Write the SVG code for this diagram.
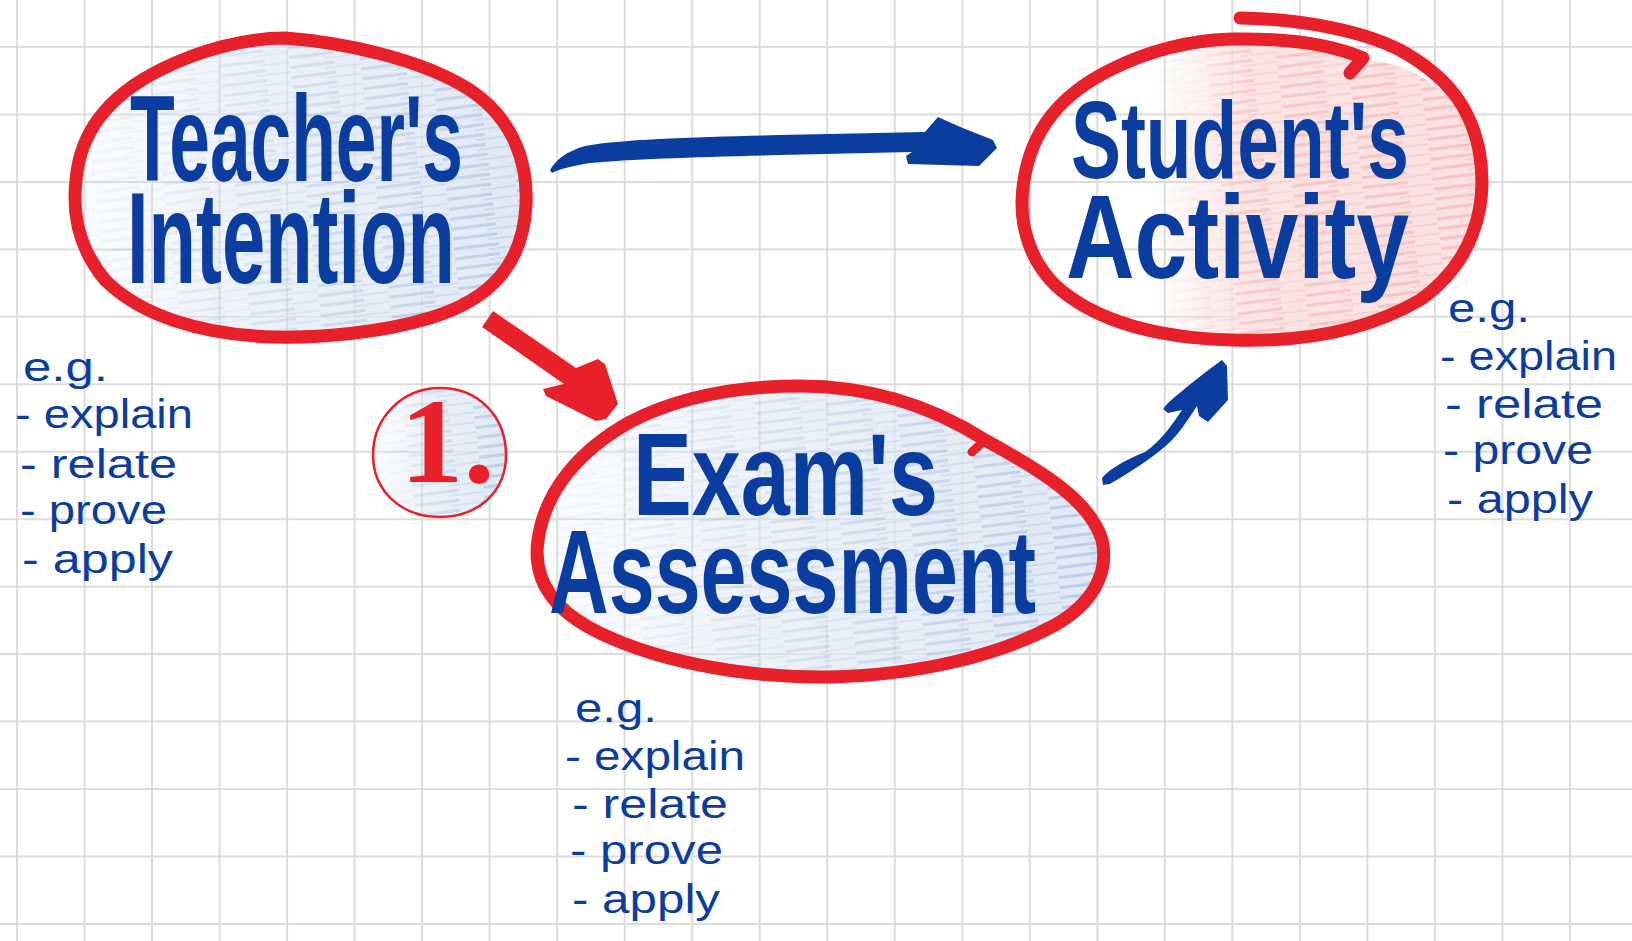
<svg xmlns="http://www.w3.org/2000/svg" width="1632" height="941" viewBox="0 0 1632 941">
<style>
.grid line{stroke:#dcdcdc;stroke-width:2}
.ring{fill:none;stroke:#e8202a;stroke-width:13;stroke-linecap:round;stroke-linejoin:round}
.title{font-family:"Liberation Sans Narrow","Liberation Sans",Arial,sans-serif;font-weight:bold;fill:#0a3d9f}
.note{font-family:"Liberation Sans Narrow","Liberation Sans",Arial,sans-serif;font-size:40px;fill:#0a3d9f}
.blue{fill:#0a3d9f}
.red{fill:#e8202a}
</style>
<defs>
<pattern id="streakB" width="70" height="10" patternUnits="userSpaceOnUse" patternTransform="rotate(-7)">
<rect width="70" height="10" fill="#dfe8f4"/>
<rect x="0" y="1" width="45" height="3" fill="#b9cce6"/>
<rect x="35" y="6" width="35" height="2" fill="#c8d7ec"/>
</pattern>
<pattern id="streakR" width="70" height="10" patternUnits="userSpaceOnUse" patternTransform="rotate(-7)">
<rect width="70" height="10" fill="#fbe1e1"/>
<rect x="0" y="1" width="45" height="3" fill="#f5c3c4"/>
<rect x="35" y="6" width="35" height="2" fill="#f7d0d1"/>
</pattern>
<linearGradient id="fade" x1="0" y1="0" x2="1" y2="0">
<stop offset="0" stop-color="#fff" stop-opacity="0.1"/>
<stop offset="0.45" stop-color="#fff" stop-opacity="0.6"/>
<stop offset="1" stop-color="#fff" stop-opacity="1"/>
</linearGradient>
<linearGradient id="fadeS" x1="0" y1="0" x2="1" y2="0">
<stop offset="0" stop-color="#fff" stop-opacity="0"/>
<stop offset="0.3" stop-color="#fff" stop-opacity="0"/>
<stop offset="0.5" stop-color="#fff" stop-opacity="0.9"/>
<stop offset="1" stop-color="#fff" stop-opacity="1"/>
</linearGradient>
<mask id="mT"><rect x="60" y="30" width="480" height="320" fill="url(#fade)"/></mask>
<mask id="mE"><rect x="530" y="380" width="580" height="310" fill="url(#fade)"/></mask>
<mask id="mS"><rect x="1010" y="20" width="480" height="330" fill="url(#fadeS)"/></mask>
<mask id="m1"><rect x="370" y="385" width="140" height="135" fill="url(#fade)"/></mask>
</defs>

<rect width="1632" height="941" fill="#ffffff"/>

<g class="grid">
<line x1="17" y1="0" x2="17" y2="941"/><line x1="84.5" y1="0" x2="84.5" y2="941"/><line x1="152" y1="0" x2="152" y2="941"/><line x1="219.6" y1="0" x2="219.6" y2="941"/><line x1="287.1" y1="0" x2="287.1" y2="941"/><line x1="354.6" y1="0" x2="354.6" y2="941"/><line x1="422.1" y1="0" x2="422.1" y2="941"/><line x1="489.6" y1="0" x2="489.6" y2="941"/><line x1="557.2" y1="0" x2="557.2" y2="941"/><line x1="624.7" y1="0" x2="624.7" y2="941"/><line x1="692.2" y1="0" x2="692.2" y2="941"/><line x1="759.7" y1="0" x2="759.7" y2="941"/><line x1="827.2" y1="0" x2="827.2" y2="941"/><line x1="894.8" y1="0" x2="894.8" y2="941"/><line x1="962.3" y1="0" x2="962.3" y2="941"/><line x1="1029.8" y1="0" x2="1029.8" y2="941"/><line x1="1097.3" y1="0" x2="1097.3" y2="941"/><line x1="1164.8" y1="0" x2="1164.8" y2="941"/><line x1="1232.4" y1="0" x2="1232.4" y2="941"/><line x1="1299.9" y1="0" x2="1299.9" y2="941"/><line x1="1367.4" y1="0" x2="1367.4" y2="941"/><line x1="1434.9" y1="0" x2="1434.9" y2="941"/><line x1="1502.4" y1="0" x2="1502.4" y2="941"/><line x1="1570" y1="0" x2="1570" y2="941"/>
<line x1="0" y1="47" x2="1632" y2="47"/><line x1="0" y1="114.5" x2="1632" y2="114.5"/><line x1="0" y1="181.9" x2="1632" y2="181.9"/><line x1="0" y1="249.4" x2="1632" y2="249.4"/><line x1="0" y1="316.8" x2="1632" y2="316.8"/><line x1="0" y1="384.3" x2="1632" y2="384.3"/><line x1="0" y1="451.8" x2="1632" y2="451.8"/><line x1="0" y1="519.2" x2="1632" y2="519.2"/><line x1="0" y1="586.7" x2="1632" y2="586.7"/><line x1="0" y1="654.1" x2="1632" y2="654.1"/><line x1="0" y1="721.6" x2="1632" y2="721.6"/><line x1="0" y1="789.1" x2="1632" y2="789.1"/><line x1="0" y1="856.5" x2="1632" y2="856.5"/><line x1="0" y1="924" x2="1632" y2="924"/>
</g>

<g id="teacher">
<path d="M285,38 C340,42 420,58 470,90 C515,120 528,165 526,205 C523,265 490,300 430,318 C380,333 320,338 275,337 C200,335 140,315 105,280 C80,250 72,215 76,180 C80,130 110,95 160,70 C200,50 245,38 285,38 Z" fill="url(#streakB)" mask="url(#mT)"/>
<path class="ring" d="M285,38 C340,42 420,58 470,90 C515,120 528,165 526,205 C523,265 490,300 430,318 C380,333 320,338 275,337 C200,335 140,315 105,280 C80,250 72,215 76,180 C80,130 110,95 160,70 C200,50 245,38 285,38 Z"/>
<text class="title" x="130" y="181" font-size="122" textLength="333" lengthAdjust="spacingAndGlyphs">Teacher's</text>
<text class="title" x="127" y="283" font-size="130" textLength="328" lengthAdjust="spacingAndGlyphs">Intention</text>
</g>

<g id="student">
<path d="M1233,39 C1300,40 1345,48 1362,60 C1420,62 1465,100 1479,150 C1490,210 1470,265 1420,300 C1360,335 1290,342 1232,340 C1160,338 1095,322 1055,285 C1025,255 1018,215 1024,180 C1032,130 1060,95 1110,70 C1150,50 1190,40 1233,39 Z" fill="url(#streakR)" mask="url(#mS)"/>
<path class="ring" d="M1350,73 L1363,58 C1330,44 1290,38 1233,39 C1190,40 1150,50 1110,70 C1060,95 1032,130 1024,180 C1018,215 1025,255 1055,285 C1095,322 1160,338 1232,340 C1290,342 1360,335 1420,300 C1470,265 1490,210 1479,150 C1470,105 1445,75 1400,50 C1360,30 1300,19 1240,18"/>
<text class="title" x="1071" y="178" font-size="110" textLength="338" lengthAdjust="spacingAndGlyphs">Student's</text>
<text class="title" x="1066" y="278" font-size="118" textLength="343" lengthAdjust="spacingAndGlyphs">Activity</text>
</g>

<g id="exam">
<path d="M800,386 C870,386 930,405 985,440 C1040,470 1090,500 1102,540 C1110,575 1090,605 1055,625 C1000,655 920,675 830,677 C740,678 650,660 590,628 C548,605 533,575 538,540 C545,490 580,450 630,422 C680,396 740,386 800,386 Z" fill="url(#streakB)" mask="url(#mE)"/>
<path class="ring" d="M800,386 C870,386 930,405 985,440 C1040,470 1090,500 1102,540 C1110,575 1090,605 1055,625 C1000,655 920,675 830,677 C740,678 650,660 590,628 C548,605 533,575 538,540 C545,490 580,450 630,422 C680,396 740,386 800,386 Z"/>
<path class="ring" d="M972,452 L985,440" style="stroke-width:9"/>
<text class="title" x="633" y="515" font-size="116" textLength="305" lengthAdjust="spacingAndGlyphs">Exam's</text>
<text class="title" x="549" y="613" font-size="118" textLength="487" lengthAdjust="spacingAndGlyphs">Assessment</text>
</g>

<g id="step1">
<path d="M440,388 C480,388 506,418 506,455 C506,492 478,517 440,517 C400,517 373,490 373,455 C373,418 402,388 440,388 Z" fill="url(#streakB)" mask="url(#m1)"/>
<path d="M440,388 C480,388 506,418 506,455 C506,492 478,517 440,517 C400,517 373,490 373,455 C373,418 402,388 440,388 Z" fill="none" stroke="#e8202a" stroke-width="2.5"/>
<text x="400" y="482" font-family="'Liberation Serif','Times New Roman',serif" font-weight="bold" font-size="120" fill="#e8202a" textLength="95" lengthAdjust="spacingAndGlyphs">1.</text>
</g>

<g id="notes">
<g id="note-teacher" class="note">
<text x="23" y="381" textLength="85" lengthAdjust="spacingAndGlyphs">e.g.</text>
<text x="15" y="428" textLength="178" lengthAdjust="spacingAndGlyphs">- explain</text>
<text x="20" y="478" textLength="157" lengthAdjust="spacingAndGlyphs">- relate</text>
<text x="20" y="524" textLength="147" lengthAdjust="spacingAndGlyphs">- prove</text>
<text x="22" y="573" textLength="151" lengthAdjust="spacingAndGlyphs">- apply</text>
</g>
<g id="note-student" class="note">
<text x="1448" y="322" textLength="82" lengthAdjust="spacingAndGlyphs">e.g.</text>
<text x="1440" y="370" textLength="177" lengthAdjust="spacingAndGlyphs">- explain</text>
<text x="1445" y="418" textLength="158" lengthAdjust="spacingAndGlyphs">- relate</text>
<text x="1443" y="464" textLength="150" lengthAdjust="spacingAndGlyphs">- prove</text>
<text x="1447" y="513" textLength="146" lengthAdjust="spacingAndGlyphs">- apply</text>
</g>
<g id="note-exam" class="note">
<text x="575" y="722" textLength="82" lengthAdjust="spacingAndGlyphs">e.g.</text>
<text x="565" y="770" textLength="180" lengthAdjust="spacingAndGlyphs">- explain</text>
<text x="572" y="818" textLength="156" lengthAdjust="spacingAndGlyphs">- relate</text>
<text x="570" y="864" textLength="153" lengthAdjust="spacingAndGlyphs">- prove</text>
<text x="572" y="913" textLength="148" lengthAdjust="spacingAndGlyphs">- apply</text>
</g>
</g>

<g id="connectors">
<path class="blue" d="M550,170 C556,160 565,152 585,146 C620,139 700,137 780,135 L925,132 L938,117 C955,125 975,133 993,140 L997,148 L979,166 L908,164 L906,156 L912,152 L780,155 C700,157 630,159 590,163 C570,166 558,170 552,173 Z"/>
<path class="red" d="M482,327 L493,311 L576,368 L598,359 L605,364 L618,404 L606,419 L596,421 L546,396 L543,389 L564,384 Z"/>
<path class="blue" d="M1102,478 C1110,468 1130,458 1145,452 C1160,442 1172,425 1182,410 L1168,413 L1163,409 L1168,403 C1185,388 1205,372 1222,360 L1227,366 L1228,400 L1208,422 L1199,416 L1197,406 C1188,420 1178,435 1168,444 C1150,460 1130,472 1110,484 L1103,485 Z"/>
</g>
</svg>
